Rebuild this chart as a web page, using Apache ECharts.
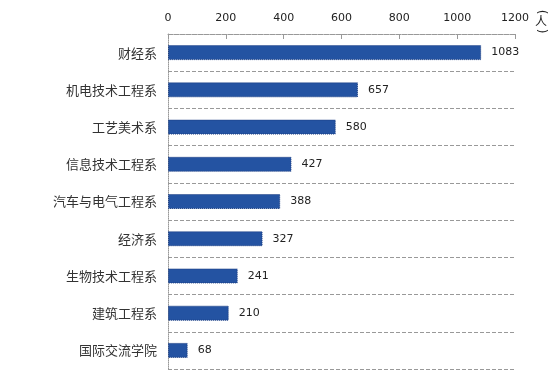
<!DOCTYPE html>
<html>
<head>
<meta charset="utf-8">
<script src="https://cdn.jsdelivr.net/npm/echarts@6/dist/echarts.min.js"></script>
<style>html,body{margin:0;padding:0;background:#fff;}#c{width:553px;height:385px;}</style>
</head>
<body>
<div id="c"></div>
<script>
const categories = ['财经系','机电技术工程系','工艺美术系','信息技术工程系','汽车与电气工程系','经济系','生物技术工程系','建筑工程系','国际交流学院'];
const values = [1083, 657, 580, 427, 388, 327, 241, 210, 68];
const tickLabels = [0, 200, 400, 600, 800, 1000, 1200];
const unitParts = ['(', '人', ')'];

const chart = echarts.init(document.getElementById('c'));
chart.setOption({
  animation: false,
  backgroundColor: '#ffffff',
  grid: { left: 168, right: 38, top: 34, bottom: 16, containLabel: false },
  xAxis: {
    type: 'value', position: 'top', min: 0, max: 1200, interval: 200,
    axisLine: { show: true, lineStyle: { color: '#999', type: 'dotted', width: 1 } },
    axisTick: { show: true, inside: true, length: 5, lineStyle: { color: '#999' } },
    axisLabel: { color: '#222', fontSize: 11, fontFamily: 'DejaVu Sans', margin: 10,
      formatter: v => tickLabels.includes(v) ? String(v) : '' },
    splitLine: { show: false }
  },
  yAxis: {
    type: 'category', data: categories, inverse: true,
    axisLine: { show: true, lineStyle: { color: '#999', type: 'dotted', width: 1 } },
    axisTick: { show: false },
    axisLabel: { color: '#333', fontSize: 13, fontFamily: 'Noto Sans CJK SC', margin: 11 },
    splitLine: { show: true, lineStyle: { color: '#999', type: 'dashed', width: 1 } }
  },
  graphic: [
    { type: 'text', x: 541, y: 12, rotation: -Math.PI / 2, style: { text: unitParts[0], fontSize: 12, fill: '#222', fontFamily: 'DejaVu Sans', align: 'center', verticalAlign: 'middle' } },
    { type: 'text', x: 541, y: 21, style: { text: unitParts[1], fontSize: 12, fill: '#222', fontFamily: 'Noto Sans CJK SC', align: 'center', verticalAlign: 'middle' } },
    { type: 'text', x: 541, y: 31, rotation: -Math.PI / 2, style: { text: unitParts[2], fontSize: 12, fill: '#222', fontFamily: 'DejaVu Sans', align: 'center', verticalAlign: 'middle' } }
  ],
  series: [{
    type: 'bar', data: values, barWidth: 15,
    itemStyle: { color: '#2453A2', borderColor: '#1b3d80', borderWidth: 1, borderType: 'dotted' },
    label: { show: true, position: 'right', distance: 10, color: '#222', fontSize: 11, fontFamily: 'DejaVu Sans' }
  }]
});
</script>
</body>
</html>
